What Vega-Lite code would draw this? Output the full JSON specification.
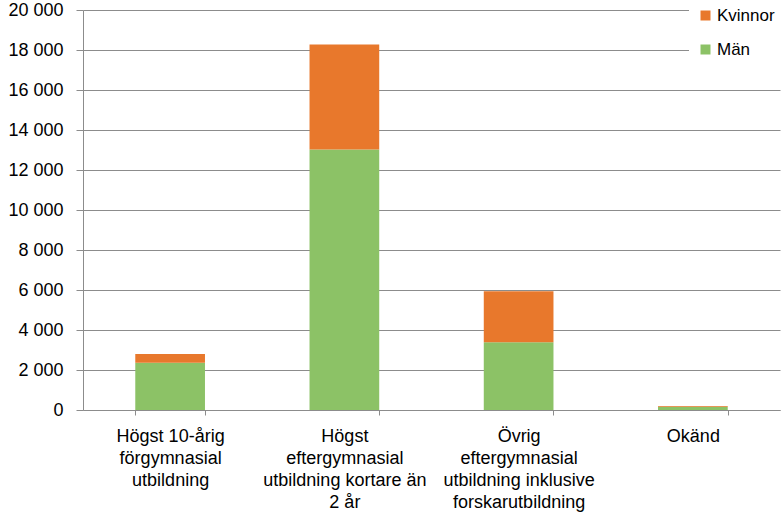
{
  "$schema": "https://vega.github.io/schema/vega-lite/v6.json",
  "width": 697,
  "height": 400,
  "autosize": {"type": "none"},
  "padding": {"left": 83, "top": 10, "right": 1, "bottom": 108},
  "background": "white",
  "config": {
    "view": {"stroke": null},
    "font": "Liberation Sans",
    "locale": {"number": {"decimal": ",", "thousands": " ", "grouping": [3], "currency": ["", " kr"]}}
  },
  "data": {
    "values": [
      {"kat": "Högst 10-årig|förgymnasial|utbildning", "kon": "Män", "ord": 1, "antal": 2365},
      {"kat": "Högst 10-årig|förgymnasial|utbildning", "kon": "Kvinnor", "ord": 2, "antal": 435},
      {"kat": "Högst|eftergymnasial|utbildning kortare än|2 år", "kon": "Män", "ord": 1, "antal": 13030},
      {"kat": "Högst|eftergymnasial|utbildning kortare än|2 år", "kon": "Kvinnor", "ord": 2, "antal": 5240},
      {"kat": "Övrig|eftergymnasial|utbildning inklusive|forskarutbildning", "kon": "Män", "ord": 1, "antal": 3390},
      {"kat": "Övrig|eftergymnasial|utbildning inklusive|forskarutbildning", "kon": "Kvinnor", "ord": 2, "antal": 2545},
      {"kat": "Okänd", "kon": "Män", "ord": 1, "antal": 165},
      {"kat": "Okänd", "kon": "Kvinnor", "ord": 2, "antal": 35}
    ]
  },
  "mark": {"type": "bar"},
  "encoding": {
    "x": {
      "field": "kat",
      "type": "nominal",
      "sort": null,
      "scale": {"paddingInner": 0.6, "paddingOuter": 0.3},
      "axis": {
        "title": null,
        "labelAngle": 0,
        "labelExpr": "split(datum.label, '|')",
        "labelFontSize": 18,
        "labelColor": "#000000",
        "labelLineHeight": 22,
        "labelPadding": 12,
        "tickBand": "extent",
        "domainColor": "#8c8c8c",
        "tickColor": "#8c8c8c",
        "tickSize": 5
      }
    },
    "y": {
      "field": "antal",
      "type": "quantitative",
      "stack": "zero",
      "scale": {"domain": [0, 20000], "nice": false},
      "axis": {
        "title": null,
        "values": [0, 2000, 4000, 6000, 8000, 10000, 12000, 14000, 16000, 18000, 20000],
        "format": ",d",
        "labelFontSize": 18,
        "labelColor": "#000000",
        "labelPadding": 13,
        "tickSize": 7,
        "tickColor": "#8c8c8c",
        "domainColor": "#8c8c8c",
        "gridColor": "#8c8c8c",
        "gridWidth": 1
      }
    },
    "color": {
      "field": "kon",
      "type": "nominal",
      "scale": {"domain": ["Kvinnor", "Män"], "range": ["#E8782C", "#8CC266"]},
      "legend": {
        "title": null,
        "orient": "none",
        "legendX": 606,
        "legendY": -11,
        "padding": 8,
        "fillColor": "white",
        "symbolType": "square",
        "symbolSize": 100,
        "symbolStrokeWidth": 0,
        "labelFontSize": 17,
        "labelColor": "#000000",
        "labelOffset": 3,
        "rowPadding": 16
      }
    },
    "order": {"field": "ord", "type": "quantitative"}
  }
}
